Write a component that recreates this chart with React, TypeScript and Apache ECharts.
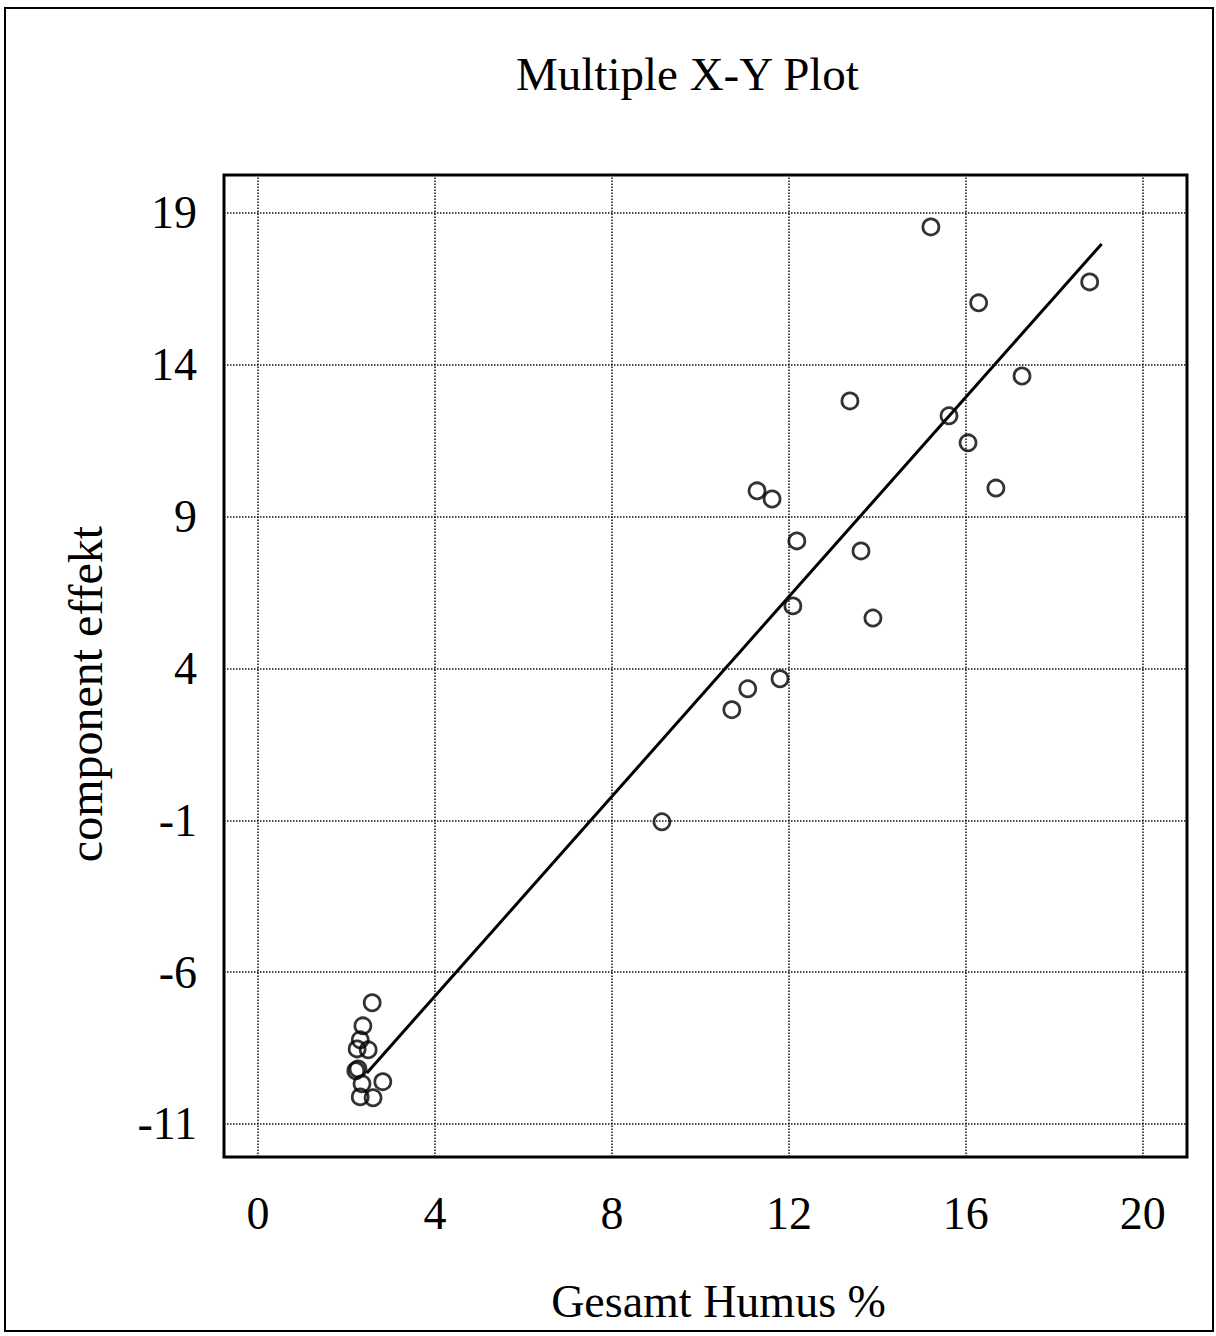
import React, { useEffect, useRef } from "react";
import * as echarts from "echarts";

const xTicks = [0, 4, 8, 12, 16, 20];
const yTicks = [-11, -6, -1, 4, 9, 14, 19];

const observed: [number, number][] = [
  [15.21, 18.54],
  [16.29, 16.04],
  [18.8, 16.73],
  [17.27, 13.63],
  [15.62, 12.32],
  [16.05, 11.43],
  [16.68, 9.94],
  [13.38, 12.81],
  [11.28, 9.85],
  [11.62, 9.58],
  [12.18, 8.2],
  [13.63, 7.87],
  [12.09, 6.06],
  [13.9, 5.66],
  [11.8, 3.66],
  [11.07, 3.33],
  [10.71, 2.64],
  [9.13, -1.05],
  [2.58, -7.01],
  [2.37, -7.77],
  [2.31, -8.23],
  [2.24, -8.53],
  [2.49, -8.56],
  [2.26, -9.19],
  [2.21, -9.25],
  [2.82, -9.61],
  [2.35, -9.68],
  [2.31, -10.11],
  [2.6, -10.14],
];

const fitLine: [number, number][] = [
  [2.46, -9.32],
  [19.07, 17.98],
];

const FONT = '"Liberation Serif", "Times New Roman", serif';

export default function App() {
  const ref = useRef<HTMLDivElement>(null);
  useEffect(() => {
    if (!ref.current) return;
    const chart = echarts.init(ref.current, undefined, { renderer: "svg" });
    chart.setOption({
      animation: false,
      backgroundColor: "#fff",
      title: {
        text: "Multiple X-Y Plot",
        left: 511,
        top: 45,
        textStyle: { fontFamily: FONT, fontSize: 47, fontWeight: "normal", color: "#000" },
      },
      graphic: [
        {
          type: "rect",
          shape: { x: 5, y: 8, width: 1208, height: 1323 },
          style: { fill: "none", stroke: "#000", lineWidth: 2 },
          z: 100,
        },
      ],
      grid: {
        left: 224,
        top: 175,
        width: 963,
        height: 982,
        show: true,
        borderColor: "#000",
        borderWidth: 3,
        backgroundColor: "transparent",
      },
      xAxis: {
        type: "value",
        min: -0.77,
        max: 21,
        axisLine: { show: false },
        axisTick: { show: false },
        splitLine: { show: false },
        axisLabel: {
          customValues: xTicks,
          fontFamily: FONT,
          fontSize: 46,
          color: "#000",
          margin: 33,
        },
        name: "Gesamt Humus %",
        nameLocation: "middle",
        nameGap: 121,
        nameTextStyle: { fontFamily: FONT, fontSize: 46, color: "#000", padding: [0, 0, 0, 26] },
      },
      yAxis: {
        type: "value",
        min: -12.09,
        max: 20.25,
        axisLine: { show: false },
        axisTick: { show: false },
        splitLine: { show: false },
        axisLabel: {
          customValues: yTicks,
          fontFamily: FONT,
          fontSize: 46,
          color: "#000",
          margin: 27,
        },
        name: "component effekt",
        nameLocation: "middle",
        nameGap: 115,
        nameTextStyle: { fontFamily: FONT, fontSize: 48, color: "#000", padding: [0, 56, 0, 0] },
      },
      series: [
        {
          type: "line",
          data: [],
          silent: true,
          markLine: {
            silent: true,
            symbol: ["none", "none"],
            label: { show: false },
            lineStyle: { type: "dotted", color: "#111", width: 1.5 },
            data: [
              ...xTicks.map((v) => ({ xAxis: v })),
              ...yTicks.map((v) => ({ yAxis: v })),
            ],
          },
        },
        {
          type: "line",
          data: fitLine,
          showSymbol: false,
          lineStyle: { color: "#000", width: 3 },
          silent: true,
        },
        {
          type: "scatter",
          data: observed,
          symbol: "circle",
          symbolSize: 16,
          itemStyle: { color: "rgba(0,0,0,0)", borderColor: "#000", borderWidth: 2.8 },
          silent: true,
        },
      ],
    });
    return () => chart.dispose();
  }, []);
  return (
    <div
      ref={ref}
      style={{ position: "absolute", left: 0, top: 0, width: 1216, height: 1336 }}
    />
  );
}
